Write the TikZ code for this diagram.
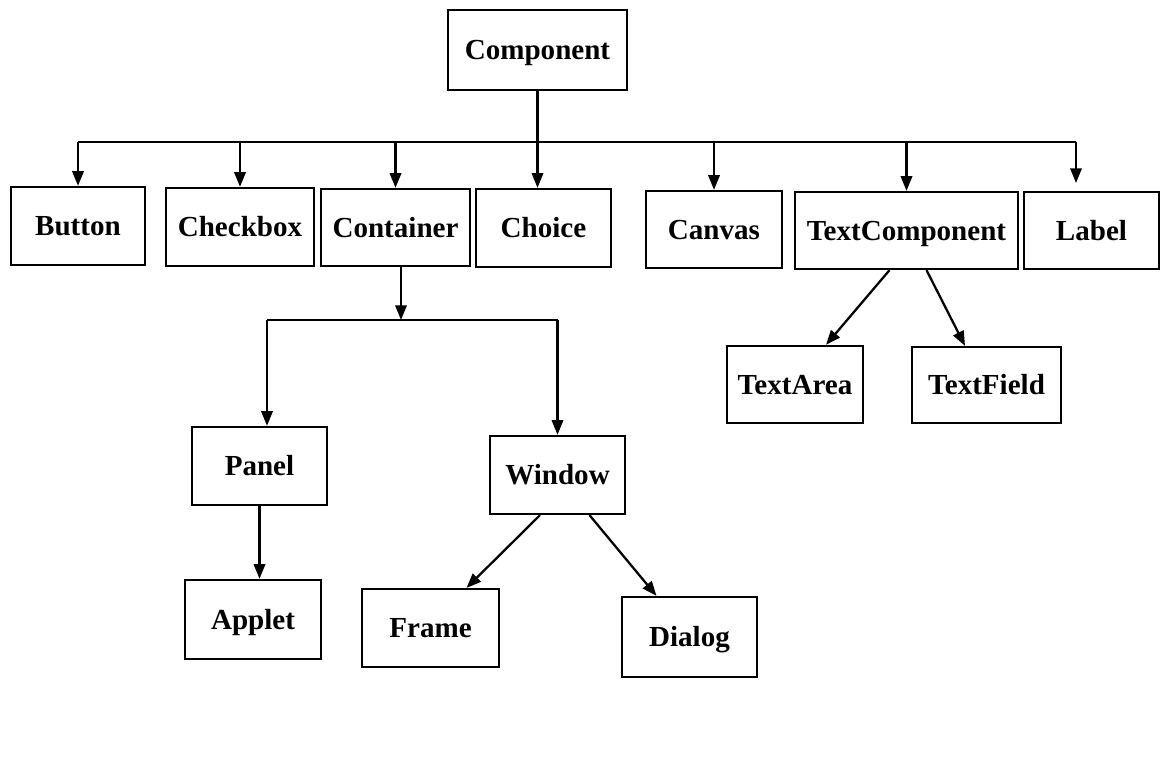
\documentclass[tikz,border=0pt]{standalone}
\usepackage{fontspec}
\setmainfont{Liberation Serif}
\usetikzlibrary{arrows.meta,calc}
\begin{document}
\begin{tikzpicture}[x=0.75pt,y=-0.75pt,
  cls/.style={draw,line width=1.7pt,inner sep=0pt,text height=14.4pt,text depth=0pt,
    font=\fontsize{21.8pt}{26pt}\selectfont\bfseries},
  link/.style={line width=1.7pt},
  arr/.style={line width=1.7pt,-{Triangle[length=11pt,width=8.5pt]}}]
\useasboundingbox (0,0) rectangle (1170,767);

% class boxes
\node[cls,minimum width=134.25pt,minimum height=60pt] (Component) at (537.5,50) {Component};
\node[cls,minimum width=100.5pt,minimum height=58.5pt] (Button) at (78,226) {Button};
\node[cls,minimum width=111pt,minimum height=58.5pt] (Checkbox) at (240,227) {Checkbox};
\node[cls,minimum width=111.75pt,minimum height=57.75pt] (Container) at (395.5,227.5) {Container};
\node[cls,minimum width=101.25pt,minimum height=58.5pt] (Choice) at (543.5,228) {Choice};
\node[cls,minimum width=102pt,minimum height=57.75pt] (Canvas) at (714,229.5) {Canvas};
\node[cls,minimum width=167.25pt,minimum height=57.75pt] (TextComponent) at (906.5,230.5) {TextComponent};
\node[cls,minimum width=101.25pt,minimum height=57.75pt] (Label) at (1091.5,230.5) {Label};
\node[cls,minimum width=102pt,minimum height=57.75pt] (TextArea) at (795,384.5) {TextArea};
\node[cls,minimum width=111.75pt,minimum height=57pt] (TextField) at (986.5,385) {TextField};
\node[cls,minimum width=101.25pt,minimum height=58.5pt] (Panel) at (259.5,466) {Panel};
\node[cls,minimum width=101.25pt,minimum height=58.5pt] (Window) at (557.5,475) {Window};
\node[cls,minimum width=102pt,minimum height=59.25pt] (Applet) at (253,619.5) {Applet};
\node[cls,minimum width=102.75pt,minimum height=58.5pt] (Frame) at (430.5,628) {Frame};
\node[cls,minimum width=101.25pt,minimum height=60pt] (Dialog) at (689.5,637) {Dialog};

% first level: bus line under Component
\coordinate (bus) at (0,142);
\coordinate (busR) at (1076,142);
\coordinate (labelTip) at (1076,183);
\draw[link] (Button.north |- bus) -- (busR);
\draw[arr] (Component.south) -- (Component.south |- Choice.north);
\draw[arr] (Button.north |- bus) -- (Button.north);
\draw[arr] (Checkbox.north |- bus) -- (Checkbox.north);
\draw[arr] (Container.north |- bus) -- (Container.north);
\draw[arr] (Canvas.north |- bus) -- (Canvas.north);
\draw[arr] (TextComponent.north |- bus) -- (TextComponent.north);
\draw[arr] (busR) -- (labelTip);

% Container subtree
\coordinate (cjoin) at (401,320);
\coordinate (pL) at (267,320);
\draw[arr] (cjoin |- Container.south) -- (cjoin);
\draw[link] (pL) -- (Window.north |- cjoin);
\draw[arr] (pL) -- (pL |- Panel.north);
\draw[arr] (Window.north |- cjoin) -- (Window.north);
\draw[arr] (Panel.south) -- (Panel.south |- Applet.north);
\draw[arr] ($(Window.south)+(-17.5,0)$) -- ($(Frame.north)+(36,0)$);
\draw[arr] ($(Window.south)+(32,0)$) -- ($(Dialog.north)+(-33,0)$);

% TextComponent subtree
\draw[arr] ($(TextComponent.south)+(-17,0)$) -- ($(TextArea.north)+(31,0)$);
\draw[arr] ($(TextComponent.south)+(20,0)$) -- ($(TextField.north)+(-21.5,0)$);
\end{tikzpicture}
\end{document}
